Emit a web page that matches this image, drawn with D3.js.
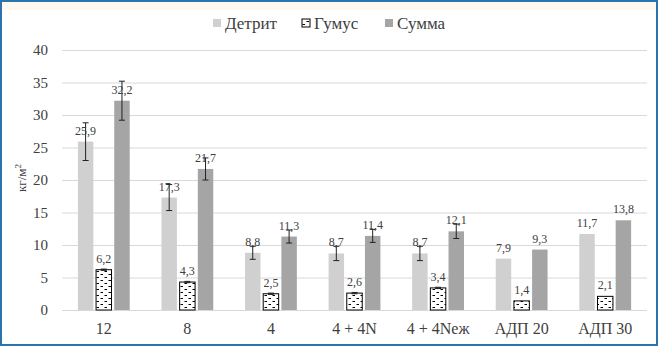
<!DOCTYPE html>
<html>
<head>
<meta charset="utf-8">
<script src="https://cdn.jsdelivr.net/npm/d3@7"></script>
<style>
  body { margin: 0; background: #fff; }
  svg { display: block; }
  svg text { font-family: "Liberation Serif", "DejaVu Serif", "Times New Roman", serif; }
  .grid line { stroke: #d9d9d9; }
  .grid path { display: none; }
</style>
</head>
<body>
<svg id="chart" width="659" height="348"></svg>
<script>
const categories = ['12', '8', '4', '4 + 4N', '4 + 4Nеж', 'АДП 20', 'АДП 30'];
const seriesNames = ['Детрит', 'Гумус', 'Сумма'];
const detrit = [25.9, 17.3, 8.8, 8.7, 8.7, 7.9, 11.7];
const gumus = [6.2, 4.3, 2.5, 2.6, 3.4, 1.4, 2.1];
const summa = [32.2, 21.7, 11.3, 11.4, 12.1, 9.3, 13.8];
const detritErr = [2.9, 2.0, 1.0, 1.1, 1.1, 0, 0];
const gumusErr = [0.1, 0.1, 0.1, 0.1, 0.1, 0, 0];
const summaErr = [3.0, 1.7, 1.0, 1.0, 1.1, 0, 0];
const yTicks = [0, 5, 10, 15, 20, 25, 30, 35, 40];

const values = [detrit, gumus, summa];
const errors = [detritErr, gumusErr, summaErr];
const fills = ['#d0d0d0', 'url(#dots)', '#a5a5a5'];

const svg = d3.select('#chart');
const W = 659, H = 348;

// frame
svg.append('rect').attr('x', 0).attr('y', 0).attr('width', W).attr('height', H).attr('fill', '#fff');
svg.append('rect').attr('x', 2).attr('y', 2).attr('width', W - 4).attr('height', 8).attr('fill', '#fdf9f0');
svg.append('rect').attr('x', 1).attr('y', 1).attr('width', W - 3).attr('height', H - 4)
  .attr('fill', 'none').attr('stroke', '#2b73ad').attr('stroke-width', 2);

// pattern for Гумус
const defs = svg.append('defs');
const pat = defs.append('pattern').attr('id', 'dots').attr('patternUnits', 'userSpaceOnUse')
  .attr('width', 8).attr('height', 6);
pat.append('rect').attr('width', 8).attr('height', 6).attr('fill', '#fff');
pat.append('line').attr('x1', 0.5).attr('x2', 3).attr('y1', 1.5).attr('y2', 1.5).attr('stroke', '#000').attr('stroke-width', 1);
pat.append('line').attr('x1', 4.5).attr('x2', 7).attr('y1', 4.5).attr('y2', 4.5).attr('stroke', '#000').attr('stroke-width', 1);

const plotLeft = 62, plotRight = 647, plotTop = 50, plotBottom = 310;

const x = d3.scaleBand().domain(categories).range([plotLeft, plotRight]).paddingInner(0.38).paddingOuter(0.19);
const x1 = d3.scaleBand().domain(seriesNames).range([0, x.bandwidth()]).paddingInner(0.15);
const y = d3.scaleLinear().domain([0, 40]).range([plotBottom, plotTop]);

// grid
svg.append('g').attr('class', 'grid')
  .attr('transform', `translate(${plotLeft},0)`)
  .call(d3.axisLeft(y).tickValues(yTicks).tickSize(-(plotRight - plotLeft)).tickFormat(''))
  .selectAll('line').attr('stroke-width', 1);

// y tick labels
svg.append('g').selectAll('text').data(yTicks).join('text')
  .attr('x', 48).attr('y', d => y(d)).attr('dy', '0.35em')
  .attr('text-anchor', 'end').attr('font-size', 15).attr('fill', '#404040')
  .text(d => d);

// x labels
svg.append('g').selectAll('text').data(categories).join('text')
  .attr('x', d => x(d) + x.bandwidth() / 2).attr('y', 334)
  .attr('text-anchor', 'middle').attr('font-size', 16).attr('fill', '#404040')
  .text(d => d);

// y title
svg.append('text').attr('transform', 'translate(26,178) rotate(-90)')
  .attr('text-anchor', 'middle').attr('font-size', 13).attr('fill', '#404040')
  .html('кг/м<tspan dy="-5" font-size="9">2</tspan>');

// bars
seriesNames.forEach((s, si) => {
  const g = svg.append('g');
  const data = categories.map((c, i) => ({ c, v: values[si][i], e: errors[si][i] }));
  g.selectAll('rect').data(data).join('rect')
    .attr('x', d => x(d.c) + x1(s))
    .attr('y', d => y(d.v))
    .attr('width', x1.bandwidth())
    .attr('height', d => y(0) - y(d.v))
    .attr('fill', fills[si])
    .attr('stroke', si === 1 ? '#000' : 'none')
    .attr('stroke-width', 1);

  // error bars
  const eb = g.selectAll('g.err').data(data.filter(d => d.e > 0)).join('g').attr('class', 'err')
    .attr('stroke', '#222').attr('stroke-width', 1);
  const cx = d => x(d.c) + x1(s) + x1.bandwidth() / 2;
  eb.append('line').attr('x1', cx).attr('x2', cx).attr('y1', d => y(d.v + d.e)).attr('y2', d => y(d.v - d.e));
  eb.append('line').attr('x1', d => cx(d) - 3).attr('x2', d => cx(d) + 3).attr('y1', d => y(d.v + d.e)).attr('y2', d => y(d.v + d.e));
  eb.append('line').attr('x1', d => cx(d) - 3).attr('x2', d => cx(d) + 3).attr('y1', d => y(d.v - d.e)).attr('y2', d => y(d.v - d.e));

  // value labels
  g.selectAll('text').data(data).join('text')
    .attr('x', cx).attr('y', d => y(d.v) - 7)
    .attr('text-anchor', 'middle').attr('font-size', 12).attr('fill', '#404040')
    .text(d => String(d.v).replace('.', ','));
});

// legend
const legendX = [213, 302, 385];
const lg = svg.append('g').selectAll('g').data(seriesNames).join('g')
  .attr('transform', (d, i) => `translate(${legendX[i]},23)`);
lg.append('rect').attr('x', 0).attr('y', -4).attr('width', 8).attr('height', 8)
  .attr('fill', (d, i) => fills[i]).attr('stroke', (d, i) => i === 1 ? '#000' : 'none');
lg.append('text').attr('x', 12).attr('dy', '0.35em').attr('font-size', 17).attr('fill', '#404040')
  .text(d => d);
</script>
</body>
</html>
